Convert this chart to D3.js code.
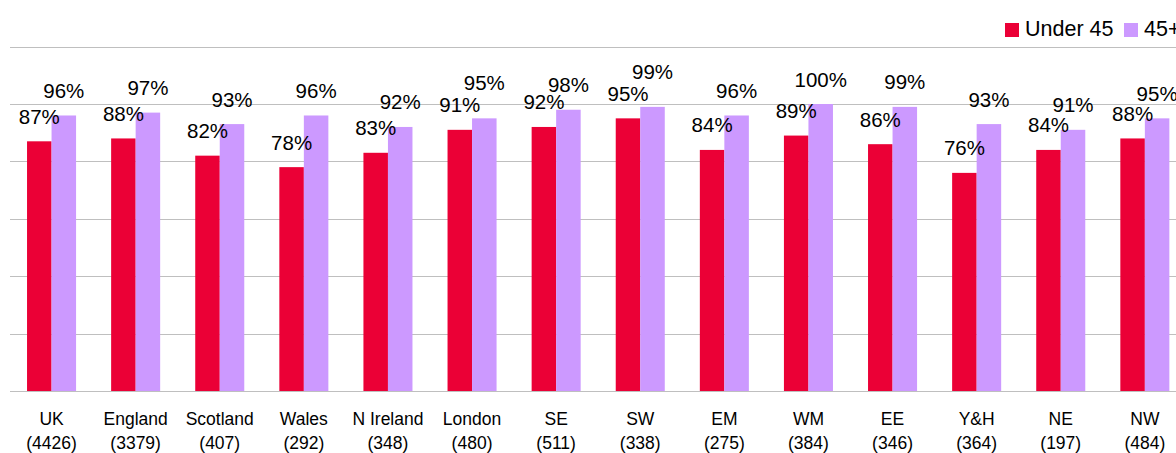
<!DOCTYPE html>
<html>
<head>
<meta charset="utf-8">
<script src="https://cdn.jsdelivr.net/npm/d3@7/dist/d3.min.js"></script>
<style>
  html, body { margin: 0; padding: 0; background: #fff; overflow: hidden; }
  svg { display: block; font-family: "Liberation Sans", Arial, sans-serif; }
</style>
</head>
<body>
<svg id="chart" width="1176" height="453"></svg>
<script>
const categories = ["UK", "England", "Scotland", "Wales", "N Ireland", "London", "SE", "SW", "EM", "WM", "EE", "Y&H", "NE", "NW"];
const sampleSizes = ["(4426)", "(3379)", "(407)", "(292)", "(348)", "(480)", "(511)", "(338)", "(275)", "(384)", "(346)", "(364)", "(197)", "(484)"];
const under45 = [0.87, 0.88, 0.82, 0.78, 0.83, 0.91, 0.92, 0.95, 0.84, 0.89, 0.86, 0.76, 0.84, 0.88];
const over45 = [0.96, 0.97, 0.93, 0.96, 0.92, 0.95, 0.98, 0.99, 0.96, 1.00, 0.99, 0.93, 0.91, 0.95];
const seriesNames = ["Under 45", "45+"];
const yTicks = [0, 0.2, 0.4, 0.6, 0.8, 1.0, 1.2];

const colors = { "Under 45": "#EB0036", "45+": "#CC99FF" };

const svg = d3.select("#chart");
const plotLeft = 9.5, step = 84.1;
const x0 = d3.scaleBand()
  .domain(categories)
  .range([plotLeft, plotLeft + step * categories.length])
  .paddingInner(0.417)
  .paddingOuter(0.2085);
const x1 = d3.scaleBand().domain(seriesNames).range([0, x0.bandwidth()]).padding(0);
const y = d3.scaleLinear().domain([0, 1.2]).range([391, 46.6]);

// gridlines
svg.append("g").selectAll("line").data(yTicks).join("line")
  .attr("x1", 10).attr("x2", 1176)
  .attr("y1", d => Math.round(y(d)) + 0.5).attr("y2", d => Math.round(y(d)) + 0.5)
  .attr("stroke", "#BFBFBF").attr("stroke-width", 1);

const rows = categories.map((c, i) => ({ cat: c, n: sampleSizes[i], vals: [
  { s: "Under 45", v: under45[i] }, { s: "45+", v: over45[i] } ] }));

// label placement: fixed offset above bar; if the two labels of a group collide, lift the 45+ label
const labelOffset = 17.5, minGap = 17, liftGap = 22;
rows.forEach(r => {
  const redB = y(r.vals[0].v) - labelOffset;
  let purB = y(r.vals[1].v) - labelOffset;
  if (redB - purB < minGap) purB = redB - liftGap;
  r.vals[0].ly = redB;
  r.vals[1].ly = purB;
});

const groups = svg.append("g").selectAll("g").data(rows).join("g")
  .attr("transform", d => `translate(${x0(d.cat)},0)`);

groups.selectAll("rect").data(d => d.vals).join("rect")
  .attr("x", d => x1(d.s))
  .attr("width", x1.bandwidth())
  .attr("y", d => y(d.v))
  .attr("height", d => y(0) - y(d.v))
  .attr("fill", d => colors[d.s]);

groups.selectAll("text.val").data(d => d.vals).join("text")
  .attr("class", "val")
  .attr("x", d => x1(d.s) + x1.bandwidth() / 2)
  .attr("y", d => d.ly)
  .attr("text-anchor", "middle")
  .attr("font-size", 20.5)
  .attr("fill", "#000")
  .text(d => Math.round(d.v * 100) + "%");

// category labels
const xAxis = svg.append("g");
rows.forEach(r => {
  const cx = x0(r.cat) + x0.bandwidth() / 2;
  xAxis.append("text").attr("x", cx).attr("y", 425)
    .attr("text-anchor", "middle").attr("font-size", 17.5).attr("fill", "#000").text(r.cat);
  xAxis.append("text").attr("x", cx).attr("y", 449)
    .attr("text-anchor", "middle").attr("font-size", 17.5).attr("fill", "#000").text(r.n);
});

// legend
const legend = svg.append("g");
const legendX = [1005, 1124];
seriesNames.forEach((s, i) => {
  legend.append("rect").attr("x", legendX[i]).attr("y", 23).attr("width", 14).attr("height", 14).attr("fill", colors[s]);
  legend.append("text").attr("x", legendX[i] + 20).attr("y", 36)
    .attr("font-size", 21.5).attr("fill", "#000").text(s);
});
</script>
</body>
</html>
